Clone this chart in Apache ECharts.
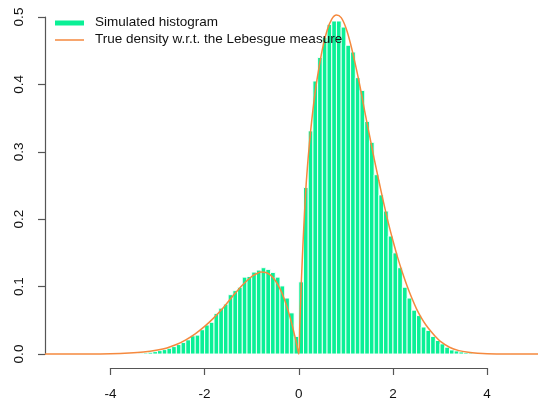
<!DOCTYPE html>
<html>
<head>
<meta charset="utf-8">
<script src="https://cdn.jsdelivr.net/npm/echarts@6/dist/echarts.min.js"></script>
<style>
html,body{margin:0;padding:0;background:#fff;}
#chart{width:538px;height:402px;}
</style>
</head>
<body>
<div id="chart"></div>
<script>
// Histogram breaks (bin edges, width 0.1)
var breaks = [-3.4,-3.3,-3.2,-3.1,-3.0,-2.9,-2.8,-2.7,-2.6,-2.5,-2.4,-2.3,-2.2,-2.1,-2.0,-1.9,-1.8,-1.7,-1.6,-1.5,-1.4,-1.3,-1.2,-1.1,-1.0,-0.9,-0.8,-0.7,-0.6,-0.5,-0.4,-0.3,-0.2,-0.1,0.0,
  0.1,0.2,0.3,0.4,0.5,0.6,0.7,0.8,0.9,1.0,1.1,1.2,1.3,1.4,1.5,1.6,1.7,1.8,1.9,2.0,2.1,2.2,2.3,2.4,2.5,2.6,2.7,2.8,2.9,3.0,3.1,3.2,3.3,3.4,3.5,3.6,3.7,3.8];
// Simulated histogram densities (one per bin)
var histDensity = [0.001,0.0015,0.0025,0.0035,0.005,0.0065,0.0085,0.011,0.014,0.017,0.021,0.027,0.028,0.036,0.043,0.047,0.060,0.068,0.074,0.088,0.094,0.099,0.114,0.115,0.1215,0.1245,0.128,0.1255,0.121,0.114,0.101,0.083,0.061,0.026,
  0.107,0.247,0.331,0.405,0.44,0.470,0.489,0.494,0.494,0.485,0.458,0.448,0.41,0.391,0.345,0.314,0.266,0.236,0.212,0.175,0.150,0.128,0.099,0.083,0.065,0.057,0.040,0.035,0.026,0.020,0.015,0.010,0.006,0.0045,0.003,0.002,0.0015,0.001];
// True density
var densX = [-5.39,-4.5,-4.0,-3.6,-3.3,-3.0,-2.8,-2.6,-2.4,-2.2,-2.0,-1.8,-1.6,-1.4,-1.2,-1.0,-0.9,-0.8,-0.7,-0.6,-0.5,-0.4,-0.3,-0.2,-0.15,-0.1,-0.05,0,
  0.02,0.05,0.1,0.15,0.2,0.25,0.3,0.35,0.4,0.5,0.6,0.7,0.8,0.9,1.0,1.1,1.2,1.3,1.4,1.5,1.6,1.7,1.8,1.9,2.0,2.1,2.2,2.3,2.4,2.5,2.6,2.7,2.8,2.9,3.0,3.2,3.4,3.6,3.8,4.0,4.5,5.08];
var densY = [0,0.0001,0.0005,0.0015,0.003,0.006,0.009,0.014,0.021,0.030,0.041,0.054,0.069,0.086,0.102,0.115,0.119,0.1215,0.121,0.117,0.109,0.097,0.080,0.058,0.045,0.031,0.016,0,
  0.04,0.10,0.18,0.245,0.292,0.33,0.362,0.39,0.413,0.452,0.48,0.497,0.503,0.499,0.484,0.46,0.43,0.397,0.36,0.325,0.29,0.257,0.225,0.195,0.168,0.143,0.121,0.101,0.083,0.067,0.054,0.043,0.034,0.026,0.019,0.010,0.005,0.0025,0.0012,0.0005,0.0001,0];
var yTicks = [0, 0.1, 0.2, 0.3, 0.4, 0.5];
var xTicks = [-4, -2, 0, 2, 4];

var histData = histDensity.map(function (d, i) { return [breaks[i], breaks[i + 1], d]; });
var curveData = densX.map(function (x, i) { return [x, densY[i]]; });

var FONT = 'Liberation Sans, Arial, Helvetica, sans-serif';
var GREEN = '#0AF096';
var ORANGE = '#F5893E';
var AXIS = '#555555';

var chart = echarts.init(document.getElementById('chart'), null, {renderer: 'canvas'});
chart.setOption({
  animation: false,
  backgroundColor: '#ffffff',
  grid: [
    {left: 45, right: 0, top: 17, bottom: 48},
    {left: 110.4, right: 50.9, top: 17, bottom: 34}
  ],
  xAxis: [
    {gridIndex: 0, type: 'value', min: -5.39, max: 5.08, show: false},
    {gridIndex: 1, type: 'value', min: xTicks[0], max: xTicks[xTicks.length - 1], interval: 2,
      axisLine: {show: true, onZero: false, lineStyle: {color: AXIS, width: 1.2}},
      axisTick: {show: true, length: 7, lineStyle: {color: AXIS, width: 1.2}},
      axisLabel: {margin: 19, color: '#111', fontSize: 13.5, fontFamily: FONT},
      splitLine: {show: false}}
  ],
  yAxis: [
    {gridIndex: 0, type: 'value', min: yTicks[0], max: yTicks[yTicks.length - 1], interval: 0.1,
      axisLine: {show: true, onZero: false, lineStyle: {color: AXIS, width: 1.2}},
      axisTick: {show: true, length: 7, lineStyle: {color: AXIS, width: 1.2}},
      axisLabel: {rotate: 90, margin: 19, color: '#111', fontSize: 13.5, fontFamily: FONT,
        formatter: function (v) { return v.toFixed(1); }},
      splitLine: {show: false}},
    {gridIndex: 1, type: 'value', show: false}
  ],
  series: [
    {
      type: 'custom', xAxisIndex: 0, yAxisIndex: 0, clip: false, z: 2,
      data: histData,
      renderItem: function (params, api) {
        var p0 = api.coord([api.value(0), api.value(2)]);
        var p1 = api.coord([api.value(1), 0]);
        return {
          type: 'rect',
          shape: {x: p0[0], y: p0[1], width: p1[0] - p0[0], height: p1[1] - p0[1]},
          style: {fill: GREEN, stroke: '#ffffff', lineWidth: 0.9}
        };
      }
    },
    {
      type: 'line', xAxisIndex: 0, yAxisIndex: 0, clip: false, z: 3,
      data: curveData, showSymbol: false, smooth: 0.3,
      lineStyle: {color: ORANGE, width: 1.5}
    }
  ],
  graphic: [
    {type: 'line', z: 10, shape: {x1: 55, y1: 23, x2: 84, y2: 23}, style: {stroke: GREEN, lineWidth: 5}},
    {type: 'line', z: 10, shape: {x1: 55, y1: 40, x2: 84, y2: 40}, style: {stroke: ORANGE, lineWidth: 1.5}},
    {type: 'text', z: 10, left: 95, top: 15, style: {text: 'Simulated histogram', fill: '#111', font: '13.5px ' + FONT}},
    {type: 'text', z: 10, left: 95, top: 32, style: {text: 'True density w.r.t. the Lebesgue measure', fill: '#111', font: '13.5px ' + FONT}}
  ]
});
</script>
</body>
</html>
